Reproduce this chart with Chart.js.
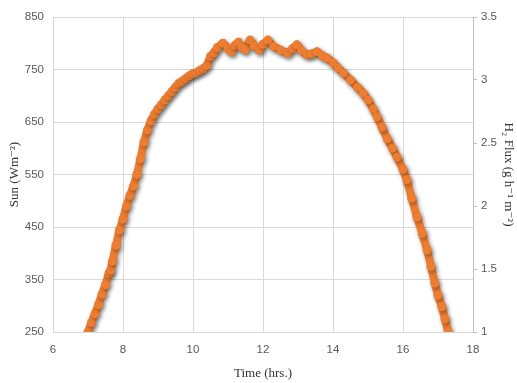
<!DOCTYPE html>
<html>
<head>
<meta charset="utf-8">
<script src="https://cdn.jsdelivr.net/npm/chart.js@4/dist/chart.umd.min.js"></script>
<style>
html,body{margin:0;padding:0;background:#fff;}
#wrap{width:517px;height:383px;}
</style>
</head>
<body>
<div id="wrap"><canvas id="c" width="517" height="383"></canvas></div>
<script>
const timeHrs = [7.00,7.10,7.20,7.30,7.40,7.50,7.60,7.65,7.70,7.80,7.90,8.00,8.10,8.20,8.30,8.40,8.50,8.60,8.70,8.80,8.90,9.00,9.10,9.20,9.30,9.40,9.50,9.60,9.70,9.80,9.90,10.00,10.10,10.20,10.30,10.40,10.50,10.60,10.70,10.85,11.00,11.10,11.20,11.30,11.40,11.50,11.63,11.75,11.90,12.00,12.14,12.30,12.50,12.70,12.85,12.97,13.10,13.26,13.40,13.54,13.70,13.83,14.00,14.14,14.30,14.50,14.70,14.86,15.00,15.15,15.26,15.40,15.55,15.70,15.83,16.00,16.11,16.25,16.40,16.55,16.69,16.80,16.91,17.00,17.11,17.20,17.29];
const sunValues = [250,268,285,302,322,340,362,368,385,415,444,465,490,510,528,550,580,612,635,652,665,675,683,692,700,708,716,724,728,733,738,742,744,748,752,758,775,782,792,800,790,784,796,802,792,788,806,795,787,798,806,794,787,781,790,797,786,778,780,784,776,772,763,753,743,730,716,705,692,675,660,640,618,600,583,560,540,505,469,438,406,375,343,320,298,275,250];
const xTicks = [6,8,10,12,14,16,18];
const sunTicks = [250,350,450,550,650,750,850];
const fluxTicks = [1,1.5,2,2.5,3,3.5];

const points = timeHrs.map((t,i)=>({x:t,y:sunValues[i]}));

const shadowPlugin = {
  id:'shadow',
  beforeDatasetsDraw(chart){ const c=chart.ctx; c.save(); c.shadowColor='rgba(0,0,0,0.35)'; c.shadowBlur=4; c.shadowOffsetX=1.5; c.shadowOffsetY=2; },
  afterDatasetsDraw(chart){ chart.ctx.restore(); }
};

const tickFont = {family:'"Liberation Sans", Arial, sans-serif', size:11.5};
const titleFont = {family:'"Liberation Serif", "DejaVu Serif", serif', size:13};
const gridColor = '#d9d9d9';

new Chart(document.getElementById('c'), {
  type:'line',
  data:{datasets:[{
    data:points,
    borderColor:'#ED7D31',
    backgroundColor:'#ED7D31',
    borderWidth:8,
    pointRadius:4.5,
    pointBorderWidth:0,
    tension:0,
    fill:false,
    borderJoinStyle:'round',
    borderCapStyle:'round',
    yAxisID:'y'
  }]},
  options:{
    responsive:false,
    animation:false,
    devicePixelRatio:1,
    layout:{padding:{top:17,left:0,right:0,bottom:0}},
    plugins:{legend:{display:false},tooltip:{enabled:false}},
    scales:{
      x:{
        type:'linear', min:6, max:18,
        afterBuildTicks(s){ s.ticks = xTicks.map(v=>({value:v})); },
        afterFit(s){ s.height = 51; },
        grid:{color:gridColor, drawTicks:false},
        border:{display:true,color:gridColor},
        ticks:{font:tickFont,color:'#595959',padding:11},
        title:{display:true,text:'Time (hrs.)',font:titleFont,color:'#333',padding:{top:0,bottom:2}}
      },
      y:{
        type:'linear', position:'left', min:250, max:850,
        afterBuildTicks(s){ s.ticks = sunTicks.map(v=>({value:v})); },
        afterFit(s){ s.width = 53; },
        grid:{color:gridColor, drawTicks:false},
        border:{display:false},
        ticks:{font:tickFont,color:'#595959',padding:9},
        title:{display:true,text:'Sun (Wm⁻²)',font:titleFont,color:'#333',padding:{top:7,bottom:0}}
      },
      y2:{
        type:'linear', position:'right', min:1, max:3.5,
        afterBuildTicks(s){ s.ticks = fluxTicks.map(v=>({value:v})); },
        afterFit(s){ s.width = 44; },
        grid:{drawOnChartArea:false, color:'#bfbfbf', drawTicks:true, tickLength:4},
        border:{display:true,color:'#bfbfbf'},
        ticks:{font:tickFont,color:'#595959',padding:4,callback:(v)=>String(v)},
        title:{display:true,text:'H₂ Flux (g h⁻¹ m⁻²)',font:titleFont,color:'#333',padding:{top:1,bottom:0}}
      }
    }
  },
  plugins:[shadowPlugin]
});
</script>
</body>
</html>
